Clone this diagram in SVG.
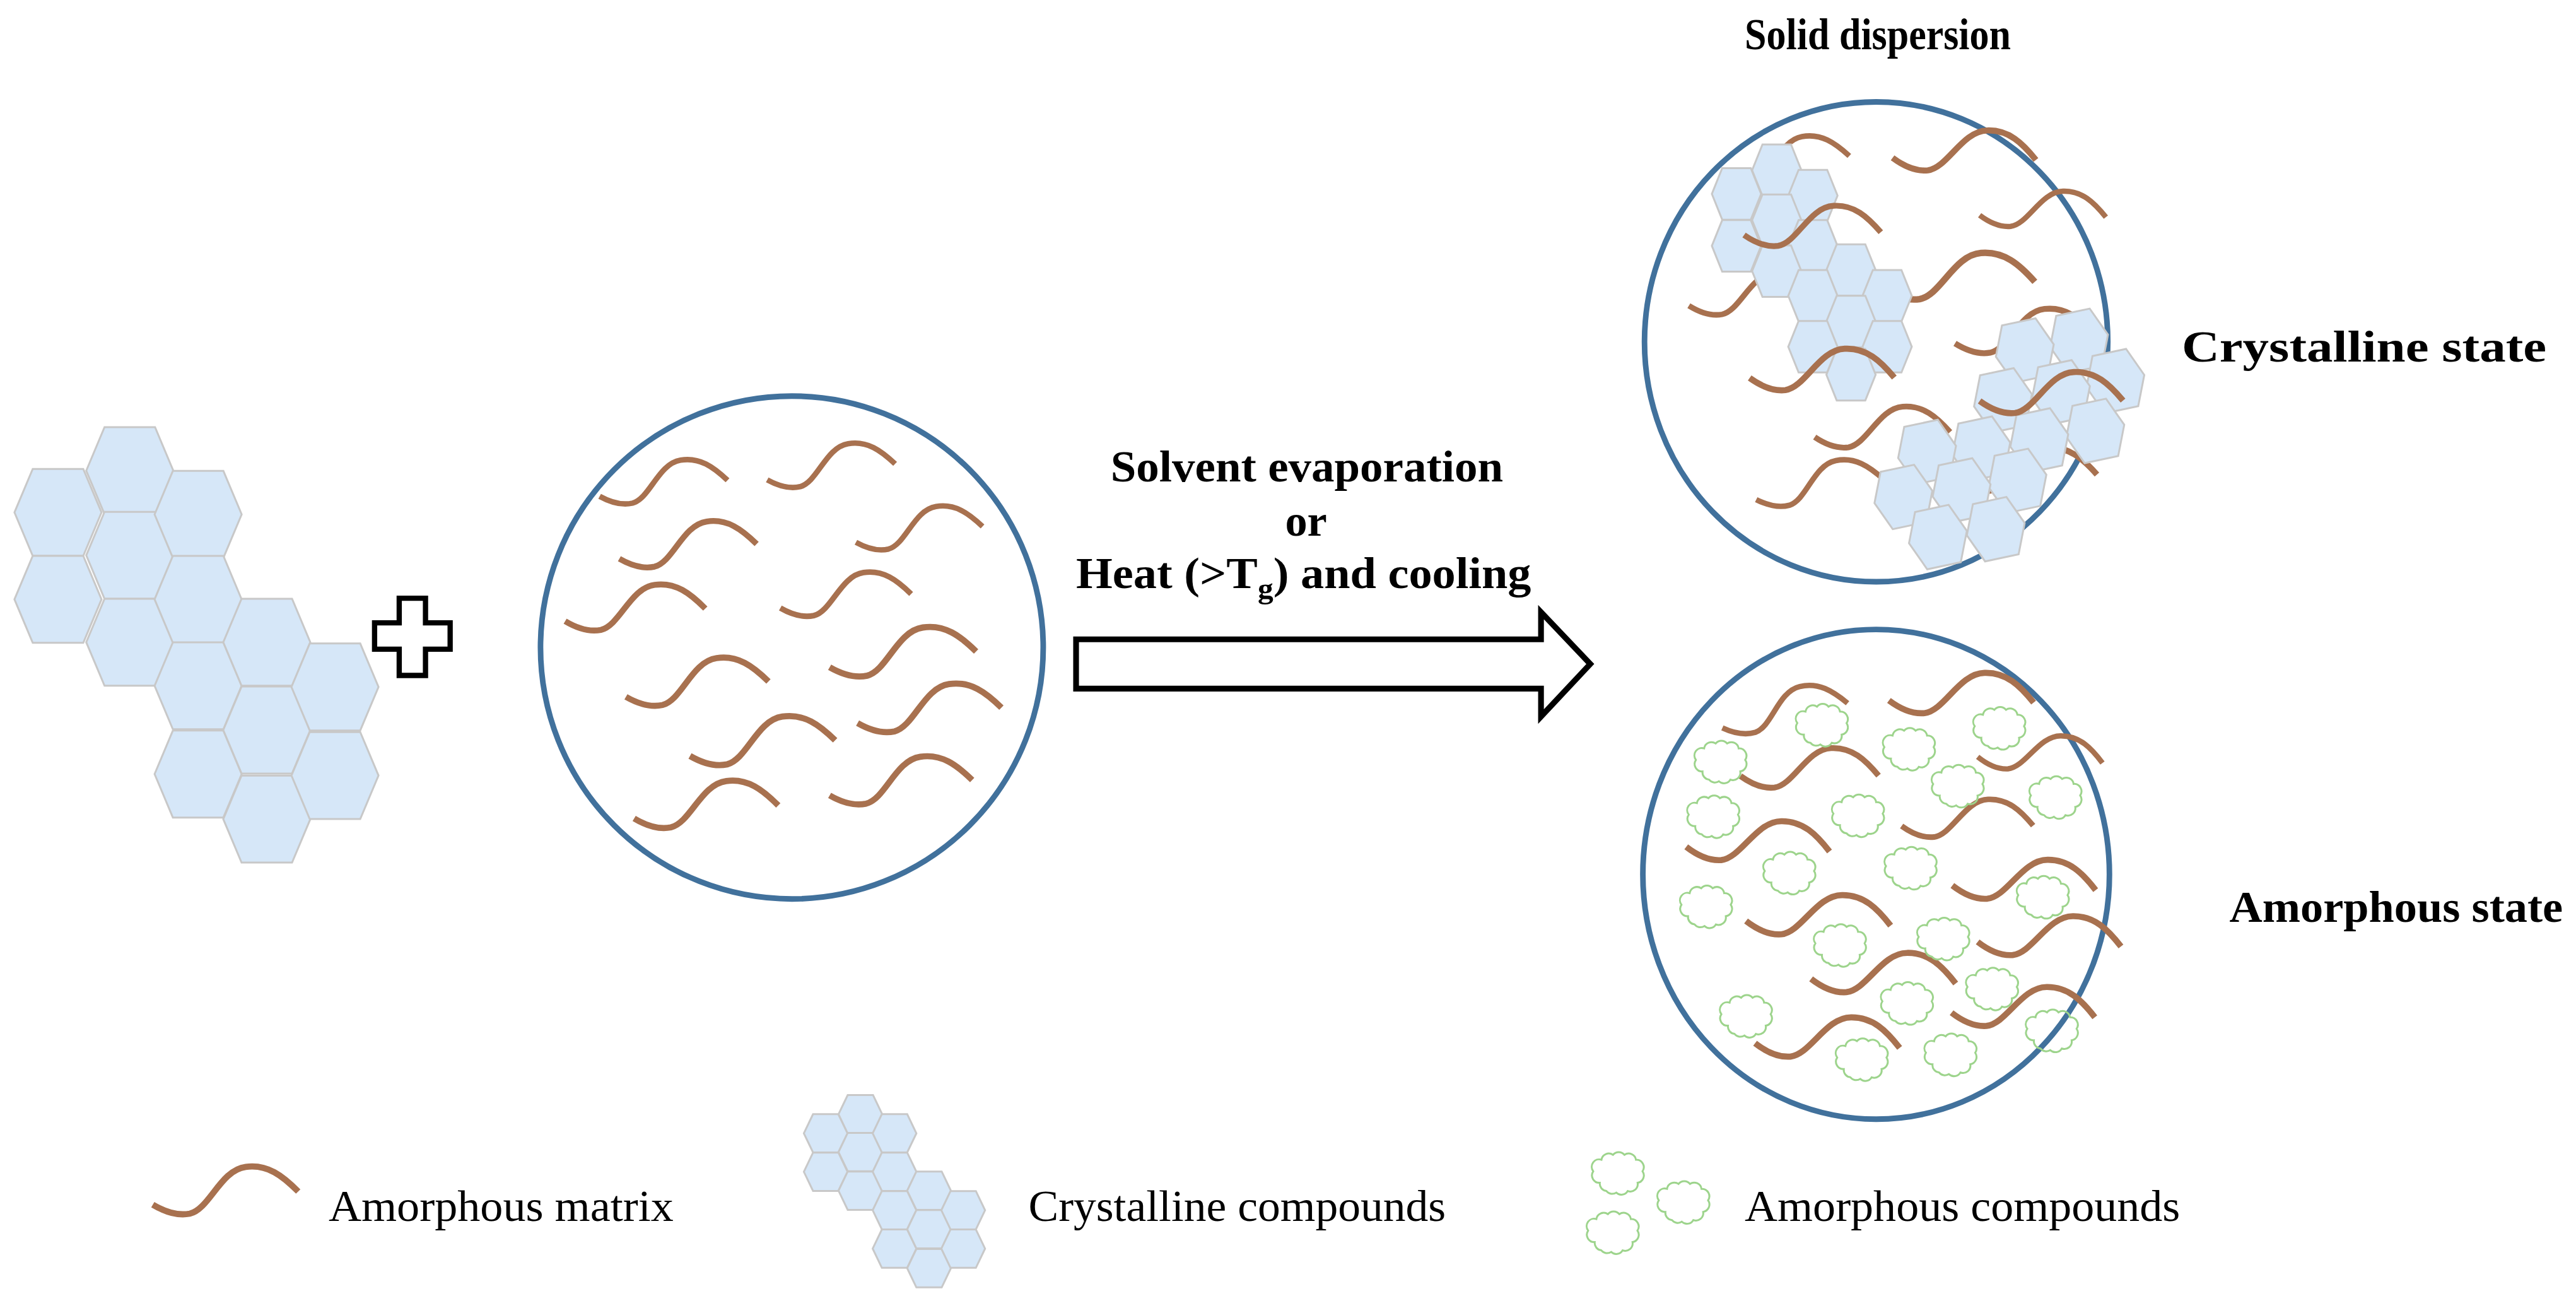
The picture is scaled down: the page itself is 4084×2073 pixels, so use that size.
<svg xmlns="http://www.w3.org/2000/svg" xmlns:xlink="http://www.w3.org/1999/xlink" width="4084" height="2073" viewBox="0 0 4084 2073">
<defs>
<style>
.sq{fill:none;stroke:#a8714f;stroke-width:3.4;stroke-linecap:butt;stroke-linejoin:round}
.hx{fill:#d6e7f8;stroke:#c8c8c8;stroke-width:3}
.cl{fill:none;stroke:#9dd48c;stroke-width:3}
.circ{fill:#fff;stroke:#41719c;stroke-width:3.4}
.b{font-family:"Liberation Serif","Times New Roman",serif;font-weight:bold;font-size:27px;fill:#000}
.r{font-family:"Liberation Serif","Times New Roman",serif;font-size:27px;fill:#000}
</style>
<path id="sq" d="M0,0 C6,4 13,7 20,6 C31,4 38,-17 52,-18 C64,-19 72,-12 80,-3"/>
<path id="hx" vector-effect="non-scaling-stroke" d="M-1,0 L-0.58,-1.08 L0.58,-1.08 L1,0 L0.58,1.08 L-0.58,1.08Z"/>
<path id="cl" vector-effect="non-scaling-stroke" d="M-11,6 A4.5,4.5 0 0 1 -15,-1 A4.5,4.5 0 0 1 -10,-8 A4.5,4.5 0 0 1 -3,-11 A4.5,4.5 0 0 1 4,-11 A4.5,4.5 0 0 1 11,-8 A4.5,4.5 0 0 1 15,-1 A4.5,4.5 0 0 1 12,6 A4.5,4.5 0 0 1 6,11 A4.5,4.5 0 0 1 -1,12 A4.5,4.5 0 0 1 -7,11 A4.5,4.5 0 0 1 -11,6Z"/>
</defs>
<rect width="4084" height="2073" fill="#fff"/>
<g transform="scale(2.6046)">
<g id="crystal-cluster">
<g class="hx">
<use xlink:href="#hx" transform="translate(35.3,311.8) scale(26.5,24.5)"/>
<use xlink:href="#hx" transform="translate(35.3,364.7) scale(26.5,24.5)"/>
<use xlink:href="#hx" transform="translate(79,286.4) scale(26.5,24.5)"/>
<use xlink:href="#hx" transform="translate(79,337.9) scale(26.5,24.5)"/>
<use xlink:href="#hx" transform="translate(79,390.8) scale(26.5,24.5)"/>
<use xlink:href="#hx" transform="translate(120.6,313) scale(26.5,24.5)"/>
<use xlink:href="#hx" transform="translate(120.6,364.7) scale(26.5,24.5)"/>
<use xlink:href="#hx" transform="translate(120.6,417.3) scale(26.5,24.5)"/>
<use xlink:href="#hx" transform="translate(120.6,471) scale(26.5,24.5)"/>
<use xlink:href="#hx" transform="translate(162.4,390.8) scale(26.5,24.5)"/>
<use xlink:href="#hx" transform="translate(162.4,444.2) scale(26.5,24.5)"/>
<use xlink:href="#hx" transform="translate(162.4,498.4) scale(26.5,24.5)"/>
<use xlink:href="#hx" transform="translate(203.9,418) scale(26.5,24.5)"/>
<use xlink:href="#hx" transform="translate(203.9,471.9) scale(26.5,24.5)"/>
</g>
</g>
<g id="plus">
<path d="M243,364 H259 V379 H274 V395 H259 V411 H243 V395 H228 V379 H243 Z" fill="#fff" stroke="#000" stroke-width="3.2"/>
</g>
<g id="matrix-circle">
<circle class="circ" cx="482" cy="394" r="153"/>
<g class="sq">
<use xlink:href="#sq" transform="translate(365,302) rotate(-5) scale(0.98)"/>
<use xlink:href="#sq" transform="translate(467,292) rotate(-5) scale(0.98)"/>
<use xlink:href="#sq" transform="translate(377,340) rotate(-4) scale(1.05)"/>
<use xlink:href="#sq" transform="translate(521,330) rotate(-5) scale(0.97)"/>
<use xlink:href="#sq" transform="translate(344,378) rotate(-3) scale(1.07)"/>
<use xlink:href="#sq" transform="translate(475,370) rotate(-4) scale(1.0)"/>
<use xlink:href="#sq" transform="translate(381,424) rotate(-4) scale(1.09)"/>
<use xlink:href="#sq" transform="translate(505,406) rotate(-4) scale(1.12)"/>
<use xlink:href="#sq" transform="translate(522,440) rotate(-4) scale(1.1)"/>
<use xlink:href="#sq" transform="translate(420,460) rotate(-4) scale(1.11)"/>
<use xlink:href="#sq" transform="translate(505,484) rotate(-4) scale(1.09)"/>
<use xlink:href="#sq" transform="translate(386,498) rotate(-3) scale(1.1)"/>
</g>
</g>
<g id="connectors">
<path d="M655,389 H938 V372.5 L968,404 L938,436 V419 H655 Z" fill="#fff" stroke="#000" stroke-width="3.5" stroke-linejoin="miter"/>
</g>
<g id="process-label">
<text class="b" x="676" y="293" textLength="239" lengthAdjust="spacingAndGlyphs">Solvent evaporation</text>
<text class="b" x="795" y="326" text-anchor="middle">or</text>
<text class="b" x="655" y="358" textLength="277" lengthAdjust="spacingAndGlyphs">Heat (&gt;T<tspan font-size="18" dy="6">g</tspan><tspan dy="-6">) and cooling</tspan></text>
</g>
<g id="crystalline-circle">
<ellipse class="circ" cx="1142" cy="208" rx="141" ry="146"/>
<g class="sq">
<use xlink:href="#sq" transform="translate(1048,106) rotate(-6) scale(0.98)"/>
<use xlink:href="#sq" transform="translate(1145,175) rotate(0) scale(1.17)"/>
<use xlink:href="#sq" transform="translate(1028,186) rotate(-2) scale(1.0)"/>
<use xlink:href="#sq" transform="translate(1190,209) rotate(-2) scale(1.06)"/>
<use xlink:href="#sq" transform="translate(1104.6,266) rotate(0) scale(1.03)"/>
<use xlink:href="#sq" transform="translate(1190,292) rotate(0) scale(1.08)"/>
<use xlink:href="#sq" transform="translate(1069,304) rotate(-7) scale(0.98)"/>
</g>
<g class="hx">
<use xlink:href="#hx" transform="translate(1081.5,103.6) scale(15,14.5)"/>
<use xlink:href="#hx" transform="translate(1057,118) scale(15,14.5)"/>
<use xlink:href="#hx" transform="translate(1103.5,119) scale(15,14.5)"/>
<use xlink:href="#hx" transform="translate(1081.5,134) scale(15,14.5)"/>
<use xlink:href="#hx" transform="translate(1057,149.6) scale(15,14.5)"/>
<use xlink:href="#hx" transform="translate(1103.5,149.6) scale(15,14.5)"/>
<use xlink:href="#hx" transform="translate(1081.5,165) scale(15,14.5)"/>
<use xlink:href="#hx" transform="translate(1126.7,164.3) scale(15,14.5)"/>
<use xlink:href="#hx" transform="translate(1103.5,180) scale(15,14.5)"/>
<use xlink:href="#hx" transform="translate(1148.7,180) scale(15,14.5)"/>
<use xlink:href="#hx" transform="translate(1126.7,195.6) scale(15,14.5)"/>
<use xlink:href="#hx" transform="translate(1103.5,211) scale(15,14.5)"/>
<use xlink:href="#hx" transform="translate(1148.7,211) scale(15,14.5)"/>
<use xlink:href="#hx" transform="translate(1126.7,228) scale(15,14.5)"/>
<use xlink:href="#hx" transform="translate(1265.5,207.4) rotate(-12) scale(18,16.5)"/>
<use xlink:href="#hx" transform="translate(1232.5,213.3) rotate(-12) scale(18,16.5)"/>
<use xlink:href="#hx" transform="translate(1287.6,231.9) rotate(-12) scale(18,16.5)"/>
<use xlink:href="#hx" transform="translate(1254.5,238.7) rotate(-12) scale(18,16.5)"/>
<use xlink:href="#hx" transform="translate(1219.2,243.6) rotate(-12) scale(18,16.5)"/>
<use xlink:href="#hx" transform="translate(1275.4,262.2) rotate(-12) scale(18,16.5)"/>
<use xlink:href="#hx" transform="translate(1241.3,268) rotate(-12) scale(18,16.5)"/>
<use xlink:href="#hx" transform="translate(1206,273) rotate(-12) scale(18,16.5)"/>
<use xlink:href="#hx" transform="translate(1173,275) rotate(-12) scale(18,16.5)"/>
<use xlink:href="#hx" transform="translate(1228,292.6) rotate(-12) scale(18,16.5)"/>
<use xlink:href="#hx" transform="translate(1194,298.4) rotate(-12) scale(18,16.5)"/>
<use xlink:href="#hx" transform="translate(1158.6,302.4) rotate(-12) scale(18,16.5)"/>
<use xlink:href="#hx" transform="translate(1214.8,322) rotate(-12) scale(18,16.5)"/>
<use xlink:href="#hx" transform="translate(1179.6,326.8) rotate(-12) scale(18,16.5)"/>
</g>
<g class="sq">
<use xlink:href="#sq" transform="translate(1152,96) rotate(3) scale(1.09)"/>
<use xlink:href="#sq" transform="translate(1205,131) rotate(3) scale(0.96)"/>
<use xlink:href="#sq" transform="translate(1061.6,143) rotate(1) scale(1.04)"/>
<use xlink:href="#sq" transform="translate(1065,230) rotate(2) scale(1.1)"/>
<use xlink:href="#sq" transform="translate(1205,244) rotate(2) scale(1.09)"/>
</g>
</g>
<g id="amorphous-circle">
<ellipse class="circ" cx="1142" cy="532" rx="142" ry="149"/>
<g class="sq">
<use xlink:href="#sq" transform="translate(1048.4,442.9) rotate(-9) scale(0.97)"/>
<use xlink:href="#sq" transform="translate(1149.8,426.2) rotate(3) scale(1.1)"/>
<use xlink:href="#sq" transform="translate(1059.4,472.2) rotate(2) scale(1.05)"/>
<use xlink:href="#sq" transform="translate(1203.8,460.5) rotate(5) scale(0.95)"/>
<use xlink:href="#sq" transform="translate(1026.4,515.3) rotate(4) scale(1.09)"/>
<use xlink:href="#sq" transform="translate(1157.5,502.6) rotate(2) scale(1.0)"/>
<use xlink:href="#sq" transform="translate(1188.4,538.8) rotate(4) scale(1.09)"/>
<use xlink:href="#sq" transform="translate(1062.8,560.4) rotate(4) scale(1.1)"/>
<use xlink:href="#sq" transform="translate(1203.8,573.1) rotate(4) scale(1.09)"/>
<use xlink:href="#sq" transform="translate(1102.4,595.6) rotate(4) scale(1.1)"/>
<use xlink:href="#sq" transform="translate(1187.9,616.2) rotate(4) scale(1.09)"/>
<use xlink:href="#sq" transform="translate(1068.3,634.8) rotate(4) scale(1.1)"/>
</g>
<g class="cl">
<use xlink:href="#cl" transform="translate(1109,441)"/>
<use xlink:href="#cl" transform="translate(1047.3,463.4)"/>
<use xlink:href="#cl" transform="translate(1162,455.6)"/>
<use xlink:href="#cl" transform="translate(1217,442.9)"/>
<use xlink:href="#cl" transform="translate(1191.7,478.1)"/>
<use xlink:href="#cl" transform="translate(1251.2,485)"/>
<use xlink:href="#cl" transform="translate(1042.9,496.7)"/>
<use xlink:href="#cl" transform="translate(1131,496.1)"/>
<use xlink:href="#cl" transform="translate(1089.2,531)"/>
<use xlink:href="#cl" transform="translate(1163,528)"/>
<use xlink:href="#cl" transform="translate(1038.5,551.5)"/>
<use xlink:href="#cl" transform="translate(1243.5,545.7)"/>
<use xlink:href="#cl" transform="translate(1120,575)"/>
<use xlink:href="#cl" transform="translate(1182.9,571.1)"/>
<use xlink:href="#cl" transform="translate(1212.6,601.5)"/>
<use xlink:href="#cl" transform="translate(1160.8,610.3)"/>
<use xlink:href="#cl" transform="translate(1062.8,618.1)"/>
<use xlink:href="#cl" transform="translate(1249,627)"/>
<use xlink:href="#cl" transform="translate(1133.3,644.5)"/>
<use xlink:href="#cl" transform="translate(1187.3,641.6)"/>
</g>
</g>
<g id="labels">
<text class="b" x="1143" y="30" text-anchor="middle" textLength="162" lengthAdjust="spacingAndGlyphs">Solid dispersion</text>
<text class="b" x="1328" y="220" textLength="222" lengthAdjust="spacingAndGlyphs">Crystalline state</text>
<text class="b" x="1357" y="561" textLength="203" lengthAdjust="spacingAndGlyphs">Amorphous state</text>
</g>
<g id="legend-matrix">
<use class="sq" xlink:href="#sq" transform="translate(93,733) rotate(-3) scale(1.11)"/>
<text class="r" x="200" y="743" textLength="210" lengthAdjust="spacingAndGlyphs">Amorphous matrix</text>
</g>
<g id="legend-crystalline">
<g class="hx">
<use xlink:href="#hx" transform="translate(502.6,689.6) scale(13.3,10.8)"/>
<use xlink:href="#hx" transform="translate(502.6,713) scale(13.3,10.8)"/>
<use xlink:href="#hx" transform="translate(523.7,678) scale(13.3,10.8)"/>
<use xlink:href="#hx" transform="translate(523.7,701) scale(13.3,10.8)"/>
<use xlink:href="#hx" transform="translate(523.7,724.5) scale(13.3,10.8)"/>
<use xlink:href="#hx" transform="translate(544.5,689.6) scale(13.3,10.8)"/>
<use xlink:href="#hx" transform="translate(544.5,713) scale(13.3,10.8)"/>
<use xlink:href="#hx" transform="translate(544.5,736.4) scale(13.3,10.8)"/>
<use xlink:href="#hx" transform="translate(544.5,759.8) scale(13.3,10.8)"/>
<use xlink:href="#hx" transform="translate(565.5,724.5) scale(13.3,10.8)"/>
<use xlink:href="#hx" transform="translate(565.5,748) scale(13.3,10.8)"/>
<use xlink:href="#hx" transform="translate(565.5,771.7) scale(13.3,10.8)"/>
<use xlink:href="#hx" transform="translate(586.3,736.4) scale(13.3,10.8)"/>
<use xlink:href="#hx" transform="translate(586.3,759.8) scale(13.3,10.8)"/>
</g>
<text class="r" x="626" y="743" textLength="254" lengthAdjust="spacingAndGlyphs">Crystalline compounds</text>
</g>
<g id="legend-amorphous">
<g class="cl">
<use xlink:href="#cl" transform="translate(984.8,713.7)"/>
<use xlink:href="#cl" transform="translate(1024.7,731.4)"/>
<use xlink:href="#cl" transform="translate(981.7,749.8)"/>
</g>
<text class="r" x="1062" y="743" textLength="265" lengthAdjust="spacingAndGlyphs">Amorphous compounds</text>
</g>
</g>
</svg>
